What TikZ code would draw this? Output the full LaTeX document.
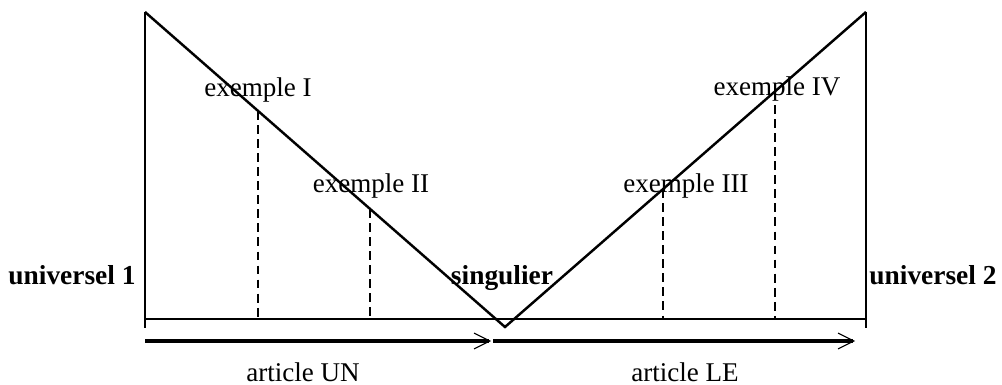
\documentclass[tikz,border=0pt]{standalone}
\usepackage{fontspec}
\setmainfont{Liberation Serif}
\usetikzlibrary{arrows.meta}
\begin{document}
\begin{tikzpicture}[x=0.02cm,y=-0.02cm,line width=1.4pt,
  lbl/.style={anchor=base,inner sep=0pt,font=\fontsize{15.4}{18}\selectfont},
  blbl/.style={lbl,font=\fontsize{15.6}{18}\bfseries},
  guide/.style={dash pattern=on 5pt off 3pt,line width=1.1pt},
  span/.style={line width=2pt,-{Straight Barb[length=9pt,width=9pt,line width=0.6pt]}}]
\useasboundingbox (0,0) rectangle (1002,385);

\coordinate (tl) at (145,12);
\coordinate (tr) at (866,12);
\coordinate (bot) at (505,327);
\coordinate (bl) at (145,328);
\coordinate (br) at (866,328);
\coordinate (sl) at (145,319);
\coordinate (sr) at (866,319);

\draw (tl)--(bl);
\draw (tr)--(br);
\draw (sl)--(sr);
\draw (tl)--(bot)--(tr);

% dashed examples
\coordinate (e1t) at (258,111);  \coordinate (e1b) at (258,319);
\coordinate (e2t) at (370,209);  \coordinate (e2b) at (370,319);
\coordinate (e3t) at (663,189);  \coordinate (e3b) at (663,319);
\coordinate (e4t) at (775,91);   \coordinate (e4b) at (775,319);
\draw[guide] (e1t)--(e1b);
\draw[guide] (e2t)--(e2b);
\draw[guide] (e3t)--(e3b);
\draw[guide] (e4t)--(e4b);

\node[lbl] (ex1) at (258,97) {exemple I};
\node[lbl] (ex2) at (371,193) {exemple II};
\node[lbl] (ex3) at (686,193) {exemple III};
\node[lbl] (ex4) at (777,96) {exemple IV};

\node[blbl] (univ1) at (72,285) {universel 1};
\node[blbl] (sing) at (502,285) {singulier};
\node[blbl] (univ2) at (933,285) {universel 2};

% arrows
\coordinate (a1s) at (145,341); \coordinate (a1e) at (491,341);
\coordinate (a2s) at (493,341); \coordinate (a2e) at (855,341);
\draw[span] (a1s)--(a1e);
\draw[span] (a2s)--(a2e);

\node[lbl] (un) at (303,381) {article UN};
\node[lbl] (le) at (685,381) {article LE};
\end{tikzpicture}
\end{document}
